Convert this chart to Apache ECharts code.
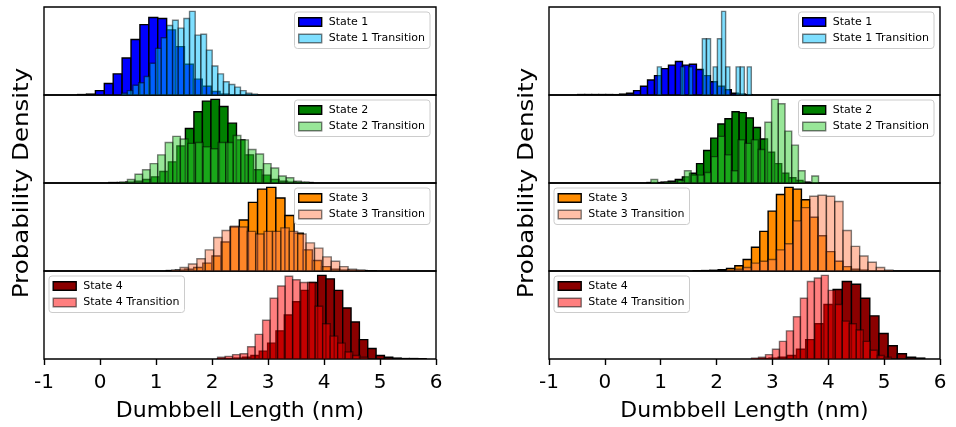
<!DOCTYPE html>
<html><head><meta charset="utf-8">
<script src="https://cdn.jsdelivr.net/npm/echarts@6/dist/echarts.min.js"></script>
<style>html,body{margin:0;padding:0;background:#fff}#c{width:956px;height:427px}</style>
</head><body><div id="c"></div>
<script>
// ---------- tick labels / axis ----------
const X_TICKS = [-1, 0, 1, 2, 3, 4, 5, 6];
const X_LABEL = 'Dumbbell Length (nm)';
const Y_LABEL = 'Probability Density';

// ---------- left panel (relative density, 100 = top of subplot) ----------
// [first bin edge, bin width]
const L1_STATE_BINS = [-0.40, 0.159];
const L1_STATE = [0.5, 1, 5, 13, 24, 42, 63, 80, 88, 87, 74, 55, 35, 18, 10, 4, 1];
const L1_TRANS_BINS = [0.387, 0.101];
const L1_TRANS = [2, 5, 11, 14, 21, 36, 53, 65, 79, 85, 76, 87, 95, 68, 69, 51, 33, 24, 15, 12, 9, 5, 2, 1];

const L2_STATE_BINS = [0.157, 0.152];
const L2_STATE = [0.5, 0.5, 1, 2, 4, 7, 13, 24, 42, 62, 81, 93, 95, 87, 68, 49, 32, 15, 9, 4, 2, 1, 0.5, 0.5];
const L2_TRANS_BINS = [0.355, 0.135];
const L2_TRANS = [1, 4, 10, 15, 22, 32, 46, 53, 50, 45, 46, 41, 39, 46, 46, 54, 49, 38, 33, 22, 17, 8, 6, 2, 1];

const L3_STATE_BINS = [1.184, 0.163];
const L3_STATE = [0.5, 1, 2, 4, 9, 17, 33, 50, 58, 78, 93, 95, 83, 63, 43, 24, 12, 5, 2, 1, 0.5, 0.5, 0.3];
const L3_TRANS_BINS = [1.28, 0.15];
const L3_TRANS = [1, 4, 8, 14, 24, 38, 46, 51, 50, 45, 42, 45, 45, 49, 45, 42, 32, 26, 16, 11, 5, 2, 1];

const L4_STATE_BINS = [2.099, 0.149];
const L4_STATE = [0.5, 0.5, 1, 2, 4, 9, 18, 32, 50, 65, 78, 87, 95, 91, 78, 58, 42, 22, 12, 4, 2, 1, 0.5, 0.5, 0.3];
const L4_TRANS_BINS = [2.10, 0.134];
const L4_TRANS = [2, 3, 5, 6, 14, 28, 44, 69, 83, 94, 90, 87, 87, 60, 40, 26, 18, 8, 4, 2];

// ---------- right panel ----------
const R1_STATE_BINS = [-0.486, 0.125];
const R1_STATE = [0.5, 0.5, 0.5, 0.5, 0.5, 0.4, 1, 2, 5, 10, 17, 22, 30, 34, 38, 34, 35, 29, 22, 15, 10, 6, 2, 1, 0.4];
// sparse transition histogram: bin left edges and heights
const R1_TRANS_W = 0.072;
const R1_TRANS_X = [0.94, 1.355, 1.50, 1.745, 1.82, 1.94, 2.015, 2.09, 2.165, 2.35, 2.425, 2.55];
const R1_TRANS = [32, 32, 32, 64, 64, 32, 64, 95, 32, 32, 32, 32];

const R2_STATE_BINS = [0.753, 0.127];
const R2_STATE = [0.5, 0.5, 1, 2, 4, 7, 11, 22, 37, 51, 67, 73, 81, 80, 74, 63, 50, 35, 22, 11, 6, 3, 1];
const R2_TRANS_BINS = [0.825, 0.12];
const R2_TRANS = [4, 0, 1, 1, 3, 14, 9, 9, 12, 30, 53, 32, 14, 49, 45, 49, 38, 69, 95, 90, 59, 43, 14, 0, 8];

const R3_STATE_BINS = [1.582, 0.149];
const R3_STATE = [0.3, 0.5, 0.8, 1.5, 3, 6, 13, 27, 45, 68, 87, 95, 93, 81, 61, 40, 22, 11, 5, 2, 1];
const R3_TRANS_BINS = [2.178, 0.149];
const R3_TRANS = [1, 2, 4, 9, 11, 13, 24, 31, 57, 72, 85, 86, 85, 79, 46, 28, 17, 10, 4, 1];

const R4_STATE_BINS = [2.775, 0.164];
const R4_STATE = [0.5, 1, 2, 4, 11, 22, 40, 62, 79, 88, 85, 69, 49, 29, 15, 6, 2, 1];
const R4_TRANS_BINS = [2.626, 0.125];
const R4_TRANS = [1, 2, 5, 11, 20, 32, 48, 69, 88, 92, 95, 78, 62, 43, 40, 33, 20, 10, 4, 2];

const STATE_NAMES = ['State 1', 'State 2', 'State 3', 'State 4'];
const STATE_COLORS = ['#0000ff', '#008000', '#ff8c00', '#8b0000'];
const TRANS_COLORS = ['#00bfff', '#32cd32', '#ff7f50', '#ff0000'];
const TRANS_ALPHA = 0.5;

// ---------- build ----------
function uniformBins(b, h) { return h.map((v, i) => [b[0] + i * b[1], b[0] + (i + 1) * b[1], v]); }
function sparseBins(xs, w, h) { return xs.map((x, i) => [x, x + w, h[i]]); }

const panels = [
  [
    [uniformBins(L1_STATE_BINS, L1_STATE), uniformBins(L1_TRANS_BINS, L1_TRANS)],
    [uniformBins(L2_STATE_BINS, L2_STATE), uniformBins(L2_TRANS_BINS, L2_TRANS)],
    [uniformBins(L3_STATE_BINS, L3_STATE), uniformBins(L3_TRANS_BINS, L3_TRANS)],
    [uniformBins(L4_STATE_BINS, L4_STATE), uniformBins(L4_TRANS_BINS, L4_TRANS)]
  ],
  [
    [uniformBins(R1_STATE_BINS, R1_STATE), sparseBins(R1_TRANS_X, R1_TRANS_W, R1_TRANS)],
    [uniformBins(R2_STATE_BINS, R2_STATE), uniformBins(R2_TRANS_BINS, R2_TRANS)],
    [uniformBins(R3_STATE_BINS, R3_STATE), uniformBins(R3_TRANS_BINS, R3_TRANS)],
    [uniformBins(R4_STATE_BINS, R4_STATE), uniformBins(R4_TRANS_BINS, R4_TRANS)]
  ]
];
// legend corner per subplot: 'r' = upper right, 'l' = upper left
const LEGEND_POS = [['r', 'r', 'r', 'l'], ['r', 'r', 'l', 'l']];

const FONT = "'DejaVu Sans', sans-serif";
const GRID_LEFT = [44, 549], GRID_W = [392, 391];
const GRID_TOP = 7, GRID_H = 88;
const W = 956;

function rgba(hex, a) {
  const n = parseInt(hex.slice(1), 16);
  return 'rgba(' + ((n >> 16) & 255) + ',' + ((n >> 8) & 255) + ',' + (n & 255) + ',' + a + ')';
}

const grids = [], xAxes = [], yAxes = [], series = [], legends = [], graphics = [];
let k = 0;
for (let p = 0; p < 2; p++) {
  for (let r = 0; r < 4; r++) {
    const bottom = r === 3;
    grids.push({ left: GRID_LEFT[p], top: GRID_TOP + r * GRID_H, width: GRID_W[p], height: GRID_H,
      show: true, borderColor: '#000', borderWidth: 1.4, backgroundColor: 'transparent' });
    xAxes.push({ type: 'value', gridIndex: k, min: X_TICKS[0], max: X_TICKS[X_TICKS.length - 1], interval: 1,
      axisLine: { show: false },
      axisTick: { show: bottom, length: 6, lineStyle: { color: '#000', width: 1.4 } },
      axisLabel: { show: bottom, fontSize: 20, color: '#000', margin: 14, fontFamily: FONT },
      splitLine: { show: false },
      name: bottom ? X_LABEL : '', nameLocation: 'middle', nameGap: 41,
      nameTextStyle: { fontSize: 22, color: '#000', fontFamily: FONT } });
    yAxes.push({ type: 'value', gridIndex: k, min: 0, max: 100, show: false });
    const [sd, td] = panels[p][r];
    const sName = STATE_NAMES[r], tName = STATE_NAMES[r] + ' Transition';
    const mk = (name, data, fill, stroke) => ({
      type: 'custom', name, xAxisIndex: k, yAxisIndex: k, data, clip: true,
      dimensions: ['x0', 'x1', 'h'], encode: { x: [0, 1], y: 2 },
      itemStyle: { color: fill },
      renderItem: (params, api) => {
        const a = api.coord([api.value(0), api.value(2)]);
        const b = api.coord([api.value(1), 0]);
        return { type: 'rect', shape: { x: a[0], y: a[1], width: b[0] - a[0], height: b[1] - a[1] },
          style: { fill, stroke, lineWidth: 1.4 } };
      }
    });
    series.push(mk(sName, sd, STATE_COLORS[r], '#000'));
    series.push(mk(tName, td, rgba(TRANS_COLORS[r], TRANS_ALPHA), 'rgba(0,0,0,' + TRANS_ALPHA + ')'));
    const lg = { top: GRID_TOP + r * GRID_H + 5, orient: 'vertical', selectedMode: false,
      itemWidth: 23, itemHeight: 8.5, itemGap: 2.5, padding: [3, 5, 3, 3.5],
      backgroundColor: 'rgba(255,255,255,0.8)', borderColor: '#cccccc', borderWidth: 1, borderRadius: 3,
      textStyle: { fontSize: 11, fontFamily: FONT, color: '#000', lineHeight: 14, padding: [0, 0, 0, 2] },
      data: [
        { name: sName, icon: 'rect', itemStyle: { color: STATE_COLORS[r], borderColor: '#000', borderWidth: 1.4 } },
        { name: tName, icon: 'rect', itemStyle: { color: rgba(TRANS_COLORS[r], TRANS_ALPHA), borderColor: 'rgba(0,0,0,0.5)', borderWidth: 1.4 } }
      ] };
    if (LEGEND_POS[p][r] === 'r') lg.right = W - (GRID_LEFT[p] + GRID_W[p]) + 6;
    else lg.left = GRID_LEFT[p] + 5;
    legends.push(lg);
    k++;
  }
  graphics.push({ type: 'text', x: GRID_LEFT[p] - 22, y: GRID_TOP + 2 * GRID_H, rotation: Math.PI / 2,
    scaleY: 0.9,
    style: { text: Y_LABEL, fontSize: 24.5, fontFamily: FONT, fill: '#000',
      textAlign: 'center', textVerticalAlign: 'middle', align: 'center', verticalAlign: 'middle' } });
}

const chart = echarts.init(document.getElementById('c'));
chart.setOption({
  animation: false, backgroundColor: '#fff',
  grid: grids, xAxis: xAxes, yAxis: yAxes, series, legend: legends, graphic: graphics
});
</script></body></html>
